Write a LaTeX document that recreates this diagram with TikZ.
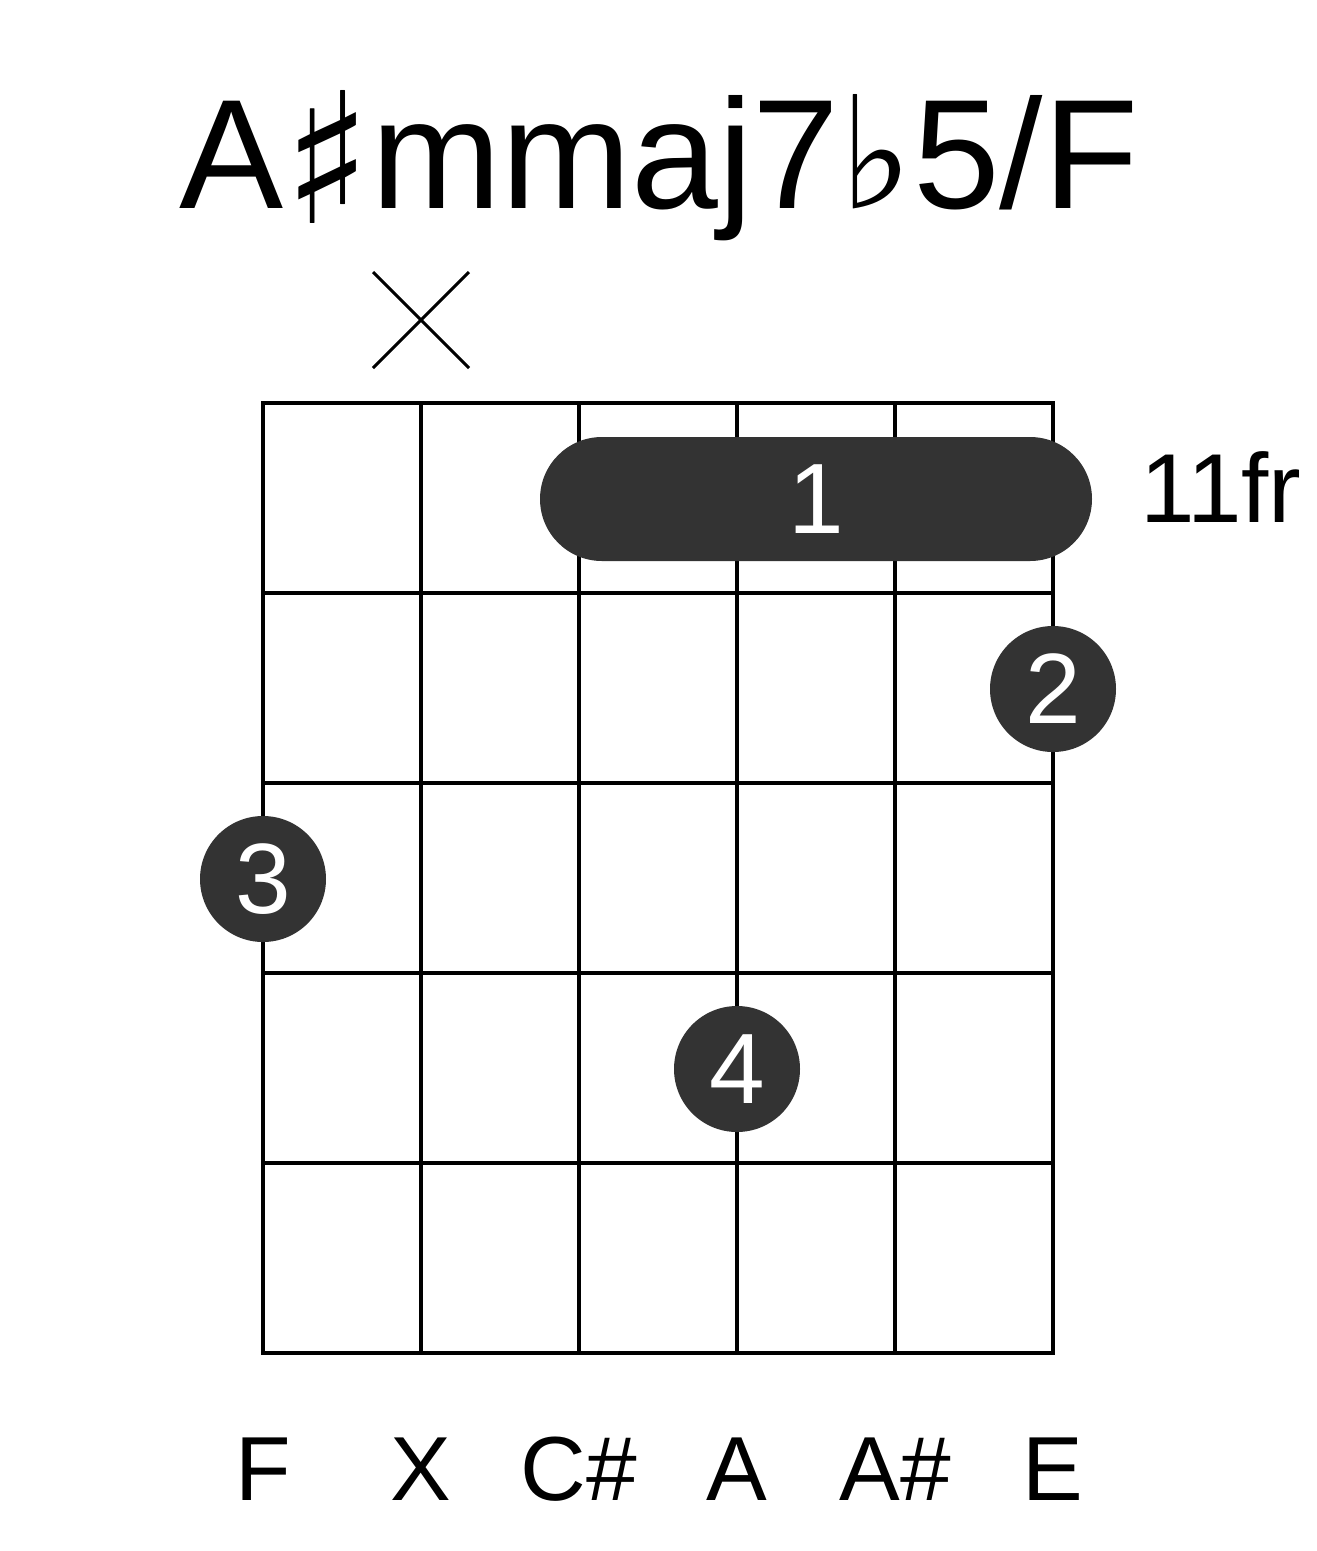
\documentclass[tikz,border=0pt]{standalone}
\usepackage{fontspec}
\setmainfont{Liberation Sans}
\newfontfamily\musicfont{DejaVu Sans}
\definecolor{dotgray}{HTML}{333333}

\begin{document}
\begin{tikzpicture}[x=1pt,y=-1pt,line width=4pt,
  finger/.style={circle,fill=dotgray,text=white,minimum size=126pt,inner sep=0pt,
    font=\fontsize{100}{100}\selectfont},
  note/.style={anchor=base,inner sep=0pt,font=\fontsize{91}{91}\selectfont}]
  \useasboundingbox (0,0) rectangle (1317,1551);

  % title
  \node (title) [anchor=base,inner sep=0pt,font=\fontsize{156}{156}\selectfont]
    at (659,208) {A\raisebox{-15pt}{\fontsize{182}{182}\musicfont ♯}mmaj7{\musicfont ♭}5/F};

  % muted string
  \draw[line width=3pt] (373,272) -- (469,368) (469,272) -- (373,368);

  % grid
  \foreach \s in {0,...,5}
    \draw (263+158*\s,403) -- (263+158*\s,1353);
  \foreach \f in {0,...,5}
    \draw (261,403+190*\f) -- (1055,403+190*\f);

  % barre and fingers
  \node (barre) [fill=dotgray,text=white,rounded corners=62pt,minimum width=552pt,
    minimum height=124pt,inner sep=0pt,font=\fontsize{100}{100}\selectfont]
    at (816,499) {1};
  \node (fr) [anchor=base west,inner sep=0pt,font=\fontsize{98}{98}\selectfont]
    at (1138,522) {11fr};
  \node (two)   [finger] at (1053,689)  {2};
  \node (three) [finger] at (263,879)   {3};
  \node (four)  [finger] at (737,1069)  {4};

  % notes
  \node (nF)  [note] at (263,1500)  {F};
  \node (nX)  [note] at (421,1500)  {X};
  \node (nCs) [note] at (579,1500)  {C\#};
  \node (nA)  [note] at (737,1500)  {A};
  \node (nAs) [note] at (895,1500)  {A\#};
  \node (nE)  [note] at (1053,1500) {E};
\end{tikzpicture}
\end{document}
